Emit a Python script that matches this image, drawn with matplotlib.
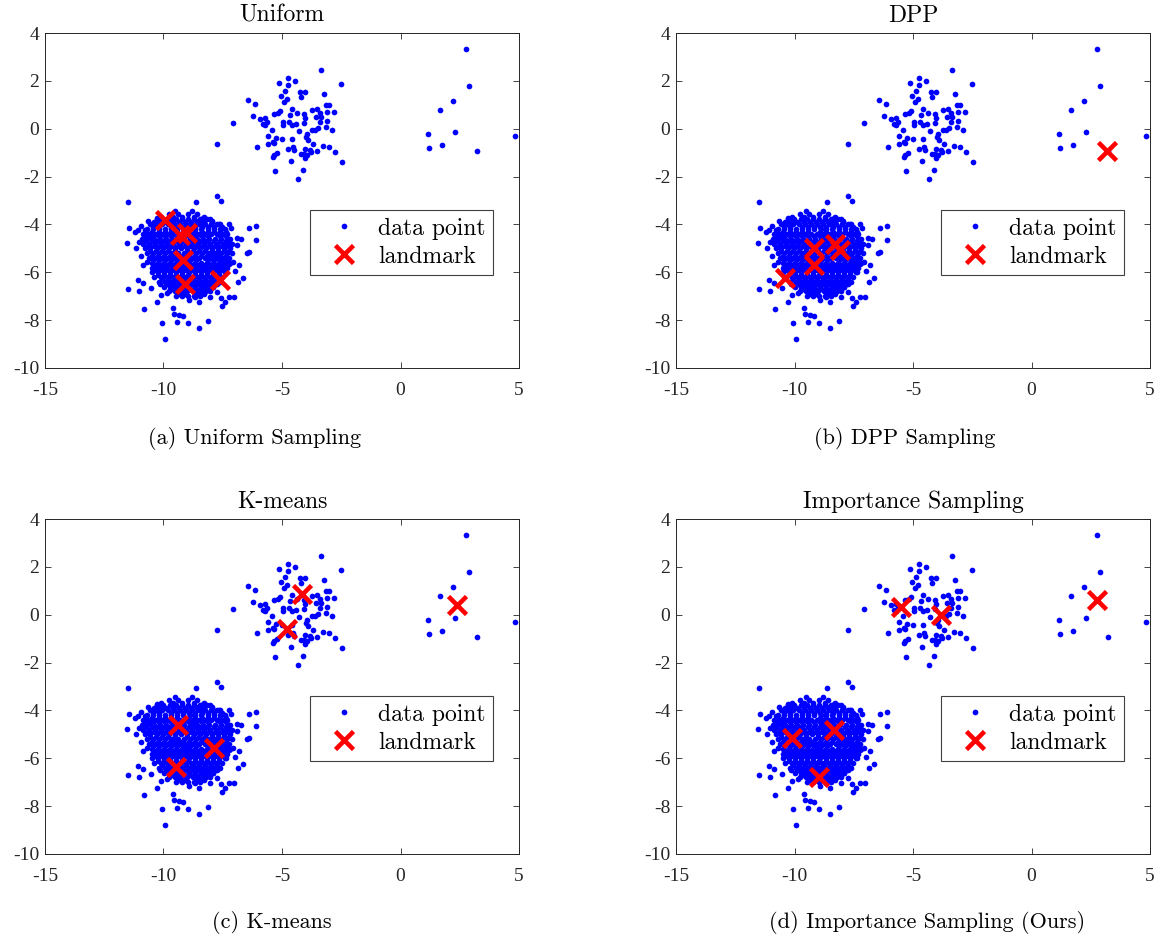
import matplotlib
matplotlib.use('Agg')
import matplotlib.pyplot as plt
import numpy as np

plt.rcParams['axes.unicode_minus'] = False

# ---------------- data ----------------
# big cluster: scattered edge points
big_x = [-11.48,-8.63,-7.76,-7.57,-10.29,-10.64,-11.44,-10.93,-11.06,-11.20,
         -10.78,-6.38,-6.11,-6.11,-7.25,-7.15,-7.64,-7.95,-8.32,-8.53,
         -11.55,-11.02,-10.78,-10.57,-11.16,-10.95,-10.85,-10.71,-11.06,-10.85,
         -11.48,-11.02,-10.53,-10.15,-10.11,-10.29,-9.87,-10.81,-9.61,-9.56,
         -9.33,-9.19,-10.05,-9.45,-8.98,-8.14,-8.50,-9.94,-8.67,-8.50,
         -8.91,-7.25,-7.02,-7.57,-7.55,-7.41,-7.73,-8.04,-6.84,-6.66,
         -6.98,-6.80,-6.49,-6.38,-6.91,-6.74,-6.91,-7.25,-7.08,-7.25,
         -7.41,-7.73,-7.90]
big_y = [-3.05,-3.05,-2.81,-3.02,-3.74,-3.86,-4.14,-4.05,-4.23,-4.30,
         -4.23,-4.14,-4.05,-4.65,-3.99,-4.14,-3.99,-3.86,-3.72,-3.86,
         -4.79,-4.72,-4.65,-4.58,-5.00,-5.32,-5.69,-5.56,-6.32,-6.46,
         -6.70,-6.78,-6.64,-6.50,-6.95,-7.23,-6.88,-7.55,-7.51,-7.76,
         -7.78,-7.83,-8.10,-8.06,-8.13,-8.03,-8.34,-8.80,-7.02,-7.26,
         -7.16,-7.02,-7.05,-7.09,-7.41,-7.23,-6.81,-7.02,-6.39,-6.25,
         -5.95,-5.69,-5.21,-5.14,-4.58,-4.61,-4.86,-4.65,-5.56,-5.65,
         -5.97,-6.47,-6.60]

# big cluster: dense core, read row by row
core_row_y = [-3.45,-3.55,-3.78,-4.0,-4.2,-4.4,-4.6,-4.8,-5.0,-5.2,-5.4,-5.6,-5.8,-6.0,-6.2,-6.4,-6.6,-6.8,-7.0,
              -3.67,-3.89,-4.10,-4.30,-4.50,-4.70,-4.90,-5.10,-5.30,-5.50,-5.70,-5.90,-6.10,-6.30,-6.50,-6.70,-6.90]
core_row_x = [
    [-9.50,-8.80],
    [-9.75,-9.37,-8.97,-8.57],
    [-10.28,-10.02,-9.74,-9.49,-9.22,-8.97,-8.71,-8.46,-8.18,-8.02],
    [-10.58,-10.33,-10.07,-9.83,-9.55,-9.30,-9.04,-8.79,-8.52,-8.27,-8.01,-7.76,-7.60],
    [-10.70,-10.45,-10.20,-9.93,-9.68,-9.42,-9.17,-8.90,-8.66,-8.40,-8.13,-7.88,-7.63,-7.42],
    [-10.86,-10.60,-10.33,-10.08,-9.81,-9.55,-9.30,-9.03,-8.78,-8.52,-8.26,-8.00,-7.74,-7.50,-7.30],
    [-10.90,-10.68,-10.41,-10.16,-9.90,-9.63,-9.38,-9.12,-8.86,-8.60,-8.33,-8.08,-7.82,-7.57,-7.33,-7.20],
    [-10.88,-10.62,-10.36,-10.10,-9.84,-9.58,-9.32,-9.06,-8.80,-8.54,-8.28,-8.02,-7.76,-7.50,-7.27,-7.10],
    [-10.80,-10.55,-10.29,-10.03,-9.77,-9.51,-9.25,-8.99,-8.73,-8.47,-8.21,-7.95,-7.69,-7.43,-7.18],
    [-10.70,-10.44,-10.18,-9.92,-9.66,-9.40,-9.14,-8.88,-8.62,-8.36,-8.10,-7.84,-7.58,-7.32,-7.10],
    [-10.60,-10.34,-10.08,-9.82,-9.56,-9.30,-9.04,-8.78,-8.52,-8.26,-8.00,-7.74,-7.48,-7.22],
    [-10.50,-10.25,-9.99,-9.73,-9.47,-9.21,-8.95,-8.69,-8.43,-8.17,-7.91,-7.65,-7.39,-7.20],
    [-10.48,-10.21,-9.95,-9.69,-9.43,-9.17,-8.91,-8.65,-8.39,-8.13,-7.87,-7.61,-7.34],
    [-10.50,-10.24,-9.98,-9.72,-9.46,-9.20,-8.94,-8.68,-8.42,-8.16,-7.90,-7.64,-7.35],
    [-10.38,-10.12,-9.86,-9.60,-9.34,-9.08,-8.82,-8.56,-8.30,-8.04,-7.78,-7.52],
    [-10.20,-9.94,-9.68,-9.42,-9.16,-8.90,-8.64,-8.38,-8.12,-7.86,-7.62],
    [-9.98,-9.72,-9.46,-9.20,-8.94,-8.68,-8.42,-8.16,-7.90],
    [-9.78,-9.52,-9.26,-9.00,-8.74,-8.48,-8.22,-8.02],
    [-9.48,-9.22,-8.96,-8.70,-8.44],
    # interleaved rows
    [-10.10,-9.62,-9.22,-8.70,-8.30],
    [-10.42,-10.15,-9.88,-9.60,-9.35,-9.10,-8.84,-8.58,-8.32,-7.95],
    [-10.46,-10.20,-9.70,-9.43,-9.17,-8.91,-8.65,-8.39,-8.14,-7.88,-7.55],
    [-10.74,-10.47,-10.21,-9.95,-9.69,-9.43,-8.91,-8.65,-8.39,-8.13,-7.87,-7.61,-7.36],
    [-10.73,-10.47,-10.21,-9.95,-9.69,-9.43,-9.17,-8.91,-8.65,-8.39,-8.13,-7.61,-7.35],
    [-10.75,-10.49,-10.23,-9.97,-9.71,-9.45,-9.19,-8.93,-8.67,-8.41,-8.15,-7.89,-7.63,-7.37],
    [-10.67,-10.41,-10.15,-9.89,-9.63,-9.37,-9.11,-8.85,-8.59,-8.33,-8.07,-7.81,-7.55,-7.29],
    [-10.57,-10.31,-10.05,-9.79,-9.53,-9.01,-8.75,-8.49,-8.23,-7.97,-7.71,-7.45,-7.22],
    [-10.50,-10.24,-9.98,-9.72,-9.46,-9.20,-8.94,-8.68,-8.42,-8.16,-7.90,-7.64,-7.38],
    [-10.45,-10.19,-9.93,-9.67,-9.41,-9.15,-8.89,-8.63,-8.11,-7.85,-7.59,-7.33],
    [-10.37,-10.11,-9.85,-9.59,-9.33,-9.07,-8.81,-8.55,-8.29,-8.03,-7.77,-7.51],
    [-10.34,-10.08,-9.82,-9.56,-9.30,-9.04,-8.78,-8.52,-8.26,-8.00,-7.74,-7.48],
    [-10.25,-9.99,-9.73,-9.47,-9.21,-8.95,-8.69,-8.43,-8.17,-7.91,-7.65],
    [-10.07,-9.81,-9.55,-9.29,-9.03,-8.77,-8.51,-8.25,-7.99,-7.73],
    [-9.85,-9.59,-9.33,-9.07,-8.81,-8.55,-8.29,-8.03],
    [-9.65,-9.39,-9.13,-8.87,-8.61,-8.35,-8.09],
    [-9.35,-9.09,-8.57,-8.31],
]

# middle cluster
mid_x = [-3.35,-4.73,-5.11,-4.44,-4.73,-2.50,-4.89,-4.24,-4.02,-3.24,
         -5.06,-4.21,-4.80,-4.90,-6.42,-6.12,-3.13,-3.00,-4.59,-5.08,
         -5.18,-5.34,-4.06,-3.73,-3.51,-3.12,-2.81,-6.24,-5.73,-5.94,
         -4.37,-4.66,-4.04,-3.38,-3.57,-3.34,-7.05,-5.63,-5.80,-5.70,
         -4.94,-4.69,-4.42,-4.07,-3.12,-3.40,-4.94,-4.59,-5.44,-4.30,
         -3.94,-3.73,-3.59,-3.47,-3.16,-2.89,-5.59,-5.25,-4.99,-4.58,
         -3.99,-3.89,-5.39,-5.60,-5.34,-3.69,-6.05,-4.75,-4.52,-4.49,
         -4.02,-3.83,-3.54,-3.28,-3.03,-2.76,-5.23,-5.34,-5.39,-4.20,
         -4.09,-4.03,-3.94,-3.78,-4.63,-2.47,-5.30,-4.11,-4.31,-7.74]
mid_y = [2.45,2.11,1.93,2.00,1.83,1.87,1.59,1.52,1.53,1.45,
         1.35,1.31,1.23,1.12,1.19,1.02,0.98,0.98,0.84,0.76,
         0.67,0.60,0.60,0.78,0.82,0.70,0.70,0.53,0.43,0.41,
         0.64,0.56,0.46,0.64,0.48,0.50,0.23,0.28,0.18,0.14,
         0.28,0.27,0.18,0.25,0.34,0.30,0.17,0.17,-0.05,-0.08,
         -0.21,-0.04,-0.05,0.05,0.06,-0.04,-0.30,-0.39,-0.44,-0.43,
         -0.33,-0.47,-0.55,-0.62,-0.61,-0.64,-0.75,-0.85,-0.78,-0.89,
         -0.86,-0.89,-0.93,-0.71,-0.76,-0.99,-1.01,-1.10,-1.17,-1.06,
         -1.06,-1.24,-1.10,-0.96,-1.36,-1.39,-1.75,-1.74,-2.09,-0.62]

# small far cluster
far_x = [2.75, 2.90, 2.23, 1.67, 1.16, 2.29, 4.85, 1.20, 1.77, 3.21]
far_y = [3.33, 1.80, 1.14, 0.78, -0.23, -0.12, -0.30, -0.82, -0.68, -0.92]

# landmarks
uniform_x = [-9.94, -9.30, -9.02, -9.16, -9.09, -7.62]
uniform_y = [-3.81, -4.44, -4.37, -5.49, -6.50, -6.32]
dpp_x = [-10.39, -9.16, -9.16, -8.28, -8.07, 3.17]
dpp_y = [-6.23, -5.69, -4.99, -4.80, -5.05, -0.92]
kmeans_x = [-9.40, -7.87, -9.49, -4.14, -4.79, 2.40]
kmeans_y = [-4.61, -5.56, -6.38, 0.85, -0.61, 0.41]
imp_x = [-10.12, -8.32, -8.95, -5.50, -3.81, 2.75]
imp_y = [-5.16, -4.82, -6.77, 0.34, -0.01, 0.62]

titles = ['Uniform', 'DPP', 'K-means', 'Importance Sampling']
captions = ['(a) Uniform Sampling', '(b) DPP Sampling', '(c) K-means',
            '(d) Importance Sampling (Ours)']
x_ticks = [-15, -10, -5, 0, 5]
y_ticks = [-10, -8, -6, -4, -2, 0, 2, 4]

# ---------------- assemble points ----------------
core_x = [x for row in core_row_x for x in row]
core_y = [y for y, row in zip(core_row_y, core_row_x) for _ in row]
all_x = np.array(big_x + core_x + mid_x + far_x)
all_y = np.array(big_y + core_y + mid_y + far_y)
landmarks = [(uniform_x, uniform_y), (dpp_x, dpp_y), (kmeans_x, kmeans_y), (imp_x, imp_y)]

# ---------------- figure ----------------
W, H = 1173, 941
fig = plt.figure(figsize=(W / 100, H / 100), dpi=100)

def rect(left, top, w, h):
    return [left / W, 1 - (top + h) / H, w / W, h / H]

panel_pos = [(45, 33), (676, 33), (45, 519), (676, 519)]
cap_pos = [(255, 438), (905, 438), (272, 923), (927, 923)]
tick_font = 'Liberation Serif'
cm_font = 'cmr10'
axcol = '#262626'

for i in range(4):
    ax = fig.add_axes(rect(panel_pos[i][0], panel_pos[i][1], 474, 335))
    ax.plot(all_x, all_y, 'o', ms=4.1, color='#0000ff', mew=0, label='data point')
    lx, ly = landmarks[i]
    ax.plot(lx, ly, 'x', ms=12.8, mew=3.3, color='#ff0000', label='landmark')
    ax.set_xlim(-15, 5)
    ax.set_ylim(-10, 4)
    ax.set_xticks(x_ticks)
    ax.set_yticks(y_ticks)
    ax.set_xticklabels([str(t) for t in x_ticks], fontfamily=tick_font, fontsize=14)
    ax.set_yticklabels([str(t) for t in y_ticks], fontfamily=tick_font, fontsize=14)
    ax.tick_params(direction='in', length=4, width=0.6, color=axcol,
                   top=True, right=True, labelcolor=axcol)
    ax.tick_params(axis='x', pad=10)
    ax.tick_params(axis='y', pad=4)
    for s in ax.spines.values():
        s.set_color(axcol)
        s.set_linewidth(0.7)
    ax.set_title(titles[i], fontfamily=cm_font, fontsize=17, pad=8, color='black')
    leg = ax.legend(loc='upper right', bbox_to_anchor=(0.946, 0.472), borderaxespad=0,
                    numpoints=1, fancybox=False, framealpha=1, edgecolor='#404040',
                    prop={'family': cm_font, 'size': 17}, handlelength=2.2,
                    handletextpad=0.36, borderpad=0.32, labelspacing=0.25)
    leg.get_frame().set_linewidth(0.8)
    fig.text(cap_pos[i][0] / W, 1 - cap_pos[i][1] / H, captions[i],
             fontfamily=cm_font, fontsize=16, ha='center', va='center')

fig.savefig('out.png', dpi=100)
